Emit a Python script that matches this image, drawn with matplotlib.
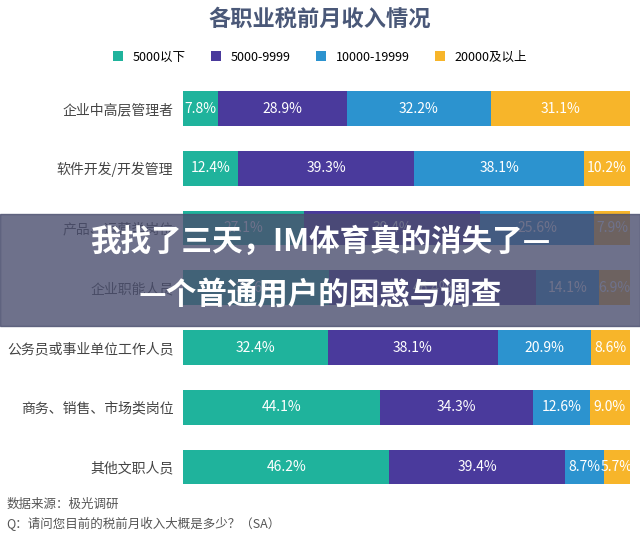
import matplotlib.pyplot as plt
import numpy as np

plt.rcParams['font.family'] = ['Noto Sans CJK SC', 'DejaVu Sans']

jobs = ['企业中高层管理者', '软件开发/开发管理', '产品、运营类岗位', '企业职能人员',
        '公务员或事业单位工作人员', '商务、销售、市场类岗位', '其他文职人员']
series = ['5000以下', '5000-9999', '10000-19999', '20000及以上']
v1 = [7.8, 12.4, 27.1, 32.6, 32.4, 44.1, 46.2]
v2 = [28.9, 39.3, 39.4, 46.4, 38.1, 34.3, 39.4]
v3 = [32.2, 38.1, 25.6, 14.1, 20.9, 12.6, 8.7]
v4 = [31.1, 10.2, 7.9, 6.9, 8.6, 9.0, 5.7]
colors = ['#1fb39c', '#4a3a9c', '#2c93cf', '#f7b52a']

fig = plt.figure(figsize=(6.4, 5.43), dpi=100)
ax = fig.add_axes([0.286, 0.085, 0.698, 0.77])
y = np.arange(len(jobs))
left = np.zeros(len(jobs))
for vals, c, name in zip([v1, v2, v3, v4], colors, series):
    vals = np.array(vals)
    ax.barh(y, vals, left=left, color=c, height=0.58, label=name)
    for yi, l, v in zip(y, left, vals):
        ax.text(l + v / 2, yi, f'{v:.1f}%', ha='center', va='center',
                color='white', fontsize=10)
    left += vals
ax.set_xlim(0, 100)
ax.set_ylim(len(jobs) - 0.5, -0.5)
ax.set_yticks(y)
ax.set_yticklabels(jobs, fontsize=10, color='#444444')
ax.tick_params(left=False, bottom=False, labelbottom=False)
for s in ax.spines.values():
    s.set_visible(False)

fig.text(0.5, 0.965, '各职业税前月收入情况', ha='center', va='center',
         fontsize=16, fontweight='bold', color='#4a5878')
fig.legend(loc='center', bbox_to_anchor=(0.5, 0.895), ncol=4, frameon=False,
           fontsize=9, handlelength=0.8, handleheight=0.8, columnspacing=2)
fig.text(0.01, 0.065, '数据来源：极光调研', fontsize=9, style='italic', color='#555555')
fig.text(0.01, 0.028, 'Q：请问您目前的税前月收入大概是多少？（SA）', fontsize=9,
         style='italic', color='#555555')

# overlay banner
fig.patches.append(plt.Rectangle((0, 0.4), 1, 0.205, transform=fig.transFigure,
                                 color='#4a4e6e', alpha=0.8, zorder=5))
fig.text(0.5, 0.555, '我找了三天，IM体育真的消失了—', ha='center', va='center',
         fontsize=22, fontweight='bold', color='white', zorder=6)
fig.text(0.5, 0.455, '—个普通用户的困惑与调查', ha='center', va='center',
         fontsize=22, fontweight='bold', color='white', zorder=6)

fig.savefig('out.png')
